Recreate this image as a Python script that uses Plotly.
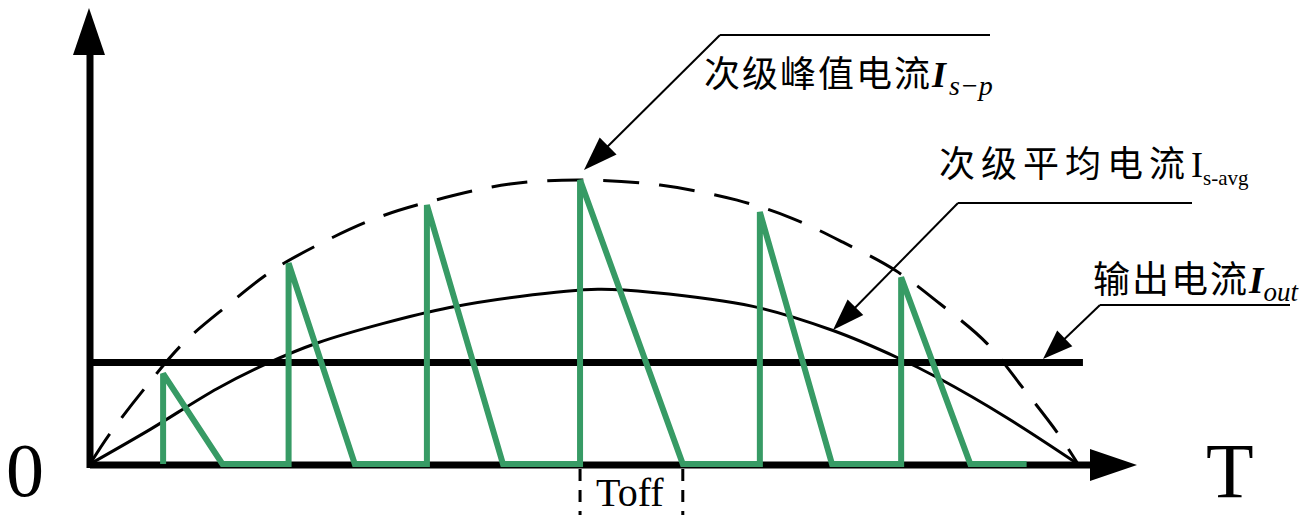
import plotly.graph_objects as go

# Time is normalised to one period T, current to the secondary peak value.
env_t = [0, 0.02, 0.056, 0.094, 0.139, 0.185, 0.236, 0.29, 0.346, 0.425, 0.5,
         0.577, 0.655, 0.71, 0.762, 0.815, 0.86, 0.908, 0.944, 0.98, 1.0]
env_i = [0, 0.106, 0.269, 0.424, 0.558, 0.682, 0.781, 0.866, 0.926, 0.986, 1.0,
         0.982, 0.929, 0.866, 0.781, 0.682, 0.565, 0.424, 0.269, 0.106, 0]

avg_t = [0, 0.061, 0.129, 0.18, 0.23, 0.297, 0.364, 0.435, 0.514, 0.57,
         0.671, 0.752, 0.817, 0.86, 0.928, 1.0]
avg_i = [0, 0.122, 0.266, 0.355, 0.426, 0.495, 0.551, 0.590, 0.615, 0.604,
         0.555, 0.470, 0.375, 0.300, 0.163, 0]

out_level = 0.357
out_t = [0, 1.005]

pulse_on = [0.074, 0.201, 0.341, 0.496, 0.678, 0.821]
pulse_peak = [0.318, 0.707, 0.912, 1.0, 0.887, 0.657]
pulse_off = [0.134, 0.268, 0.418, 0.600, 0.751, 0.891]
wave_end = 0.948
toff_index = 3

label_peak = "次级峰值电流"
label_avg = "次级平均电流"
label_out = "输出电流"

W, H = 1314, 515
X0, XS = 90, 988      # pixel of t=0, pixels per period
Y0, YS = 464, 284     # pixel of i=0, pixels per unit current


def px(xp):
    return xp / W


def py(yp):
    return 1 - yp / H


def arrow_head(tip, src, length, half):
    (tx, ty), (sx, sy) = tip, src
    dx, dy = tx - sx, ty - sy
    n = (dx * dx + dy * dy) ** 0.5
    dx, dy = dx / n, dy / n
    bx, by = tx - dx * length, ty - dy * length
    pts = [(tx, ty), (bx - dy * half, by + dx * half), (bx + dy * half, by - dx * half)]
    path = "M " + " L ".join(f"{px(a):.5f},{py(b):.5f}" for a, b in pts) + " Z"
    return dict(type="path", xref="paper", yref="paper", path=path,
                fillcolor="black", line=dict(color="black", width=0), layer="above")


def seg(x1, y1, x2, y2, width, dash=None, layer="above"):
    ln = dict(color="black", width=width)
    if dash:
        ln["dash"] = dash
    return dict(type="line", xref="paper", yref="paper", x0=px(x1), y0=py(y1),
                x1=px(x2), y1=py(y2), line=ln, layer=layer)


# green switching waveform of the secondary current
wave_t, wave_i = [], []
for on, pk, off in zip(pulse_on, pulse_peak, pulse_off):
    wave_t += [on, on, off]
    wave_i += [0, pk, 0]
wave_t.append(wave_end)
wave_i.append(0)

fig = go.Figure()
fig.add_trace(go.Scatter(x=env_t, y=env_i, mode="lines",
                         line=dict(color="black", width=3, dash="36px,20px", shape="spline"),
                         hoverinfo="skip"))
fig.add_trace(go.Scatter(x=avg_t, y=avg_i, mode="lines",
                         line=dict(color="black", width=3, shape="spline"),
                         hoverinfo="skip"))
fig.add_trace(go.Scatter(x=out_t, y=[out_level, out_level], mode="lines",
                         line=dict(color="black", width=7), hoverinfo="skip"))
fig.add_trace(go.Scatter(x=wave_t, y=wave_i, mode="lines",
                         line=dict(color="#379b65", width=6), hoverinfo="skip"))

shapes = []
# axes with arrow heads
shapes.append(seg(90, 465, 1092, 465, 7, layer="below"))
shapes.append(seg(90, 468, 90, 52, 7, layer="below"))
shapes.append(arrow_head((1137, 465), (1000, 465), 47, 16))
shapes.append(arrow_head((89, 8), (89, 200), 47, 16))

# Toff markers below the fourth pulse
for tv in (pulse_on[toff_index], pulse_off[toff_index]):
    xp = X0 + tv * XS
    shapes.append(seg(xp, 469, xp, 515, 3, dash="12px,9px"))

# leader lines for the labels
peak_tip = (X0 + 0.5 * XS, 170)
shapes.append(seg(720, 35, 990, 35, 2))
shapes.append(seg(720, 35, peak_tip[0] + 10, peak_tip[1] - 10, 2))
shapes.append(arrow_head(peak_tip, (720, 35), 34, 12))

avg_tip = (833, 330)
shapes.append(seg(958, 203, 1192, 203, 2))
shapes.append(seg(958, 203, avg_tip[0] + 10, avg_tip[1] - 10, 2))
shapes.append(arrow_head(avg_tip, (958, 203), 32, 11))

out_tip = (1043, 359)
shapes.append(seg(1100, 305, 1290, 305, 2))
shapes.append(seg(1100, 305, out_tip[0] + 10, out_tip[1] - 9, 2))
shapes.append(arrow_head(out_tip, (1100, 305), 30, 11))

serif = "Liberation Serif, Noto Sans CJK SC"
annotations = [
    dict(text=f'<span style="letter-spacing:2px">{label_peak}</span>'
              f'<b><i>I</i></b>&#8202;<sub><span style="font-size:28px"><i>s−p</i></span></sub>',
         x=px(702), y=py(78), xanchor="left", yanchor="middle",
         font=dict(family=serif, size=36, color="black")),
    dict(text=f'<span style="letter-spacing:6px">{label_avg}</span>I'
              f'<sub><span style="font-size:21px">s-avg</span></sub>',
         x=px(937), y=py(167), xanchor="left", yanchor="middle",
         font=dict(family=serif, size=36, color="black")),
    dict(text=f'<span style="letter-spacing:2px">{label_out}</span>'
              f'<b><i>I</i></b><sub><span style="font-size:27px"><i>out</i></span></sub>',
         x=px(1091), y=py(283), xanchor="left", yanchor="middle",
         font=dict(family=serif, size=37, color="black")),
    dict(text="0", x=px(25), y=py(470), xanchor="center", yanchor="middle",
         font=dict(family="Liberation Serif", size=76, color="black")),
    dict(text="T", x=px(1230), y=py(470), xanchor="center", yanchor="middle",
         font=dict(family="Liberation Serif", size=78, color="black")),
    dict(text="Toff", x=px(630), y=py(492), xanchor="center", yanchor="middle",
         font=dict(family="Liberation Serif", size=40, color="black")),
]
for a in annotations:
    a.update(xref="paper", yref="paper", showarrow=False)

fig.update_layout(
    width=W, height=H, margin=dict(l=0, r=0, t=0, b=0),
    paper_bgcolor="white", plot_bgcolor="white", showlegend=False,
    xaxis=dict(range=[-X0 / XS, (W - X0) / XS], visible=False, fixedrange=True),
    yaxis=dict(range=[-(H - Y0) / YS, Y0 / YS], visible=False, fixedrange=True),
    shapes=shapes, annotations=annotations,
)

fig.write_html("out.html")
